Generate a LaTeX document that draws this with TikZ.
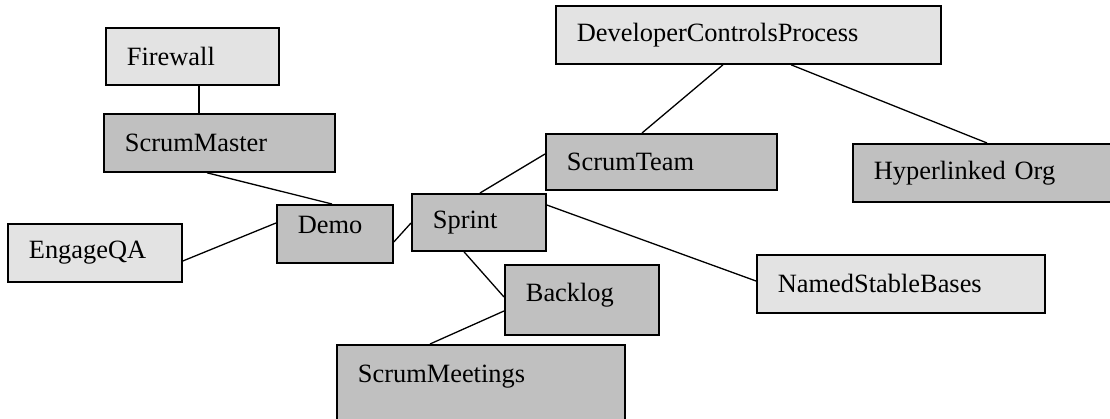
\documentclass[tikz,border=0pt]{standalone}
\usepackage{fontspec}
\setmainfont{Liberation Serif}
\usepackage{xcolor}
\usepackage{tikz}
\usetikzlibrary{positioning, calc}
\definecolor{PaleGrey}{RGB}{227, 227, 227}
\definecolor{DarkGrey}{RGB}{192, 192, 192}
\tikzset{
	box/.style={draw=black, line width=1.8pt, rectangle, anchor=north west, align=left, inner xsep=21pt, inner ysep=0pt, font=\fontsize{26.4}{30}\selectfont},
	pale/.style={box, fill=PaleGrey},
	dark/.style={box, fill=DarkGrey},
	link/.style={draw=black, line width=1.3pt},
}

\begin{document}
\begin{tikzpicture}[x=1pt, y=-1pt]
\useasboundingbox (0,0) rectangle (1110,419);

\node[pale, text width=131pt, minimum height=57pt] (firewall) at (105,27) {Firewall};
\node[dark, text width=189pt, minimum height=58pt] (scrummaster) at (103,113) {ScrumMaster};
\node[pale, text width=132pt, minimum height=58pt] (engageqa) at (7,223) {EngageQA};
\node[dark, text width=74pt, minimum height=58pt, text depth=18pt] (demo) at (276,204) {Demo};
\node[dark, text width=92pt, minimum height=57pt] (sprint) at (411,193) {Sprint};
\node[dark, text width=189pt, minimum height=56pt] (scrumteam) at (545,133) {ScrumTeam};
\node[pale, text width=343pt, minimum height=58pt] (devcontrols) at (555,5) {DeveloperControlsProcess};
\node[dark, text width=228pt, minimum height=58pt] (hyperorg) at (852,143) {Hyperlinked Org};
\node[pale, text width=246pt, minimum height=58pt] (stablebases) at (756,254) {NamedStableBases};
\node[dark, text width=112pt, minimum height=70pt, text depth=16pt] (backlog) at (504,264) {Backlog};
\node[dark, text width=246pt, minimum height=96pt, text depth=38pt] (meetings) at (336,344) {ScrumMeetings};

\draw[link] ([xshift=94pt]firewall.south west) -- ([xshift=96pt]scrummaster.north west);
\draw[link] ([xshift=104pt]scrummaster.south west) -- ([xshift=56pt]demo.north west);
\draw[link] ([yshift=-38pt]engageqa.north east) -- ([yshift=-19pt]demo.north west);
\draw[link] ([yshift=-38pt]demo.north east) -- ([yshift=-30pt]sprint.north west);
\draw[link] ([xshift=69pt]sprint.north west) -- ([yshift=-21pt]scrumteam.north west);
\draw[link] ([xshift=53pt]sprint.south west) -- ([yshift=-33pt]backlog.north west);
\draw[link] ([yshift=-12pt]sprint.north east) -- ([yshift=-27pt]stablebases.north west);
\draw[link] ([yshift=-47pt]backlog.north west) -- ([xshift=94pt]meetings.north west);
\draw[link] ([xshift=168pt]devcontrols.south west) -- ([xshift=97pt]scrumteam.north west);
\draw[link] ([xshift=236pt]devcontrols.south west) -- ([xshift=135pt]hyperorg.north west);
\end{tikzpicture}
\end{document}
